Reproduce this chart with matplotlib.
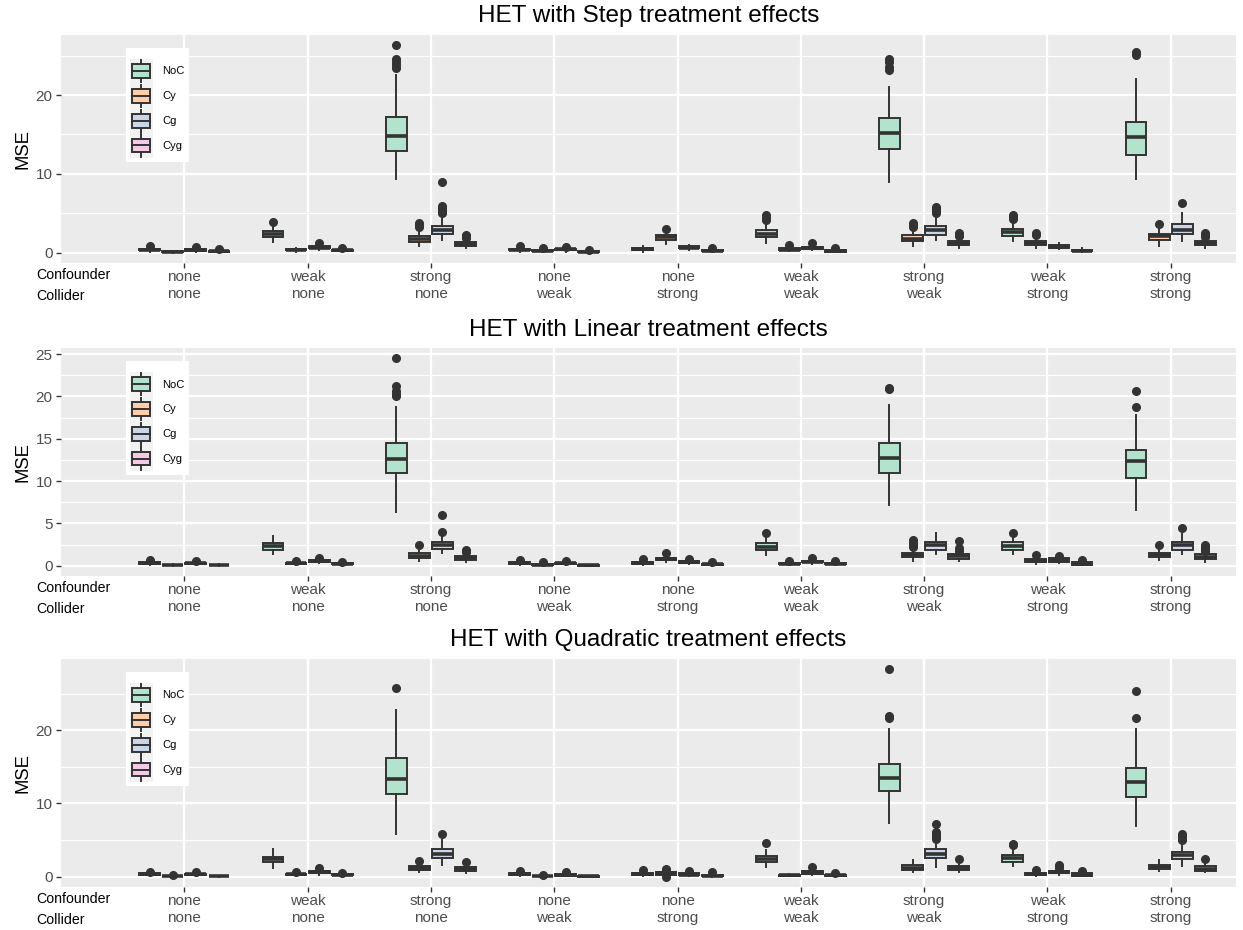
import matplotlib
matplotlib.use("Agg")
import matplotlib.pyplot as plt
from matplotlib.legend_handler import HandlerBase
from matplotlib.patches import Patch, Rectangle
from matplotlib.lines import Line2D
import numpy as np

plt.rcParams["font.family"] = ["Liberation Sans", "DejaVu Sans"]

# categories (x axis, two rows)
CONFOUNDER = ["none", "weak", "strong", "none", "none", "weak", "strong", "weak", "strong"]
COLLIDER = ["none", "none", "none", "weak", "strong", "weak", "weak", "strong", "strong"]
GROUPS = ["NoC", "Cy", "Cg", "Cyg"]
COLORS = ["#B3E2CD", "#FDCDAC", "#CBD5E8", "#F4CAE4"]
TITLES = ["HET with Step treatment effects",
          "HET with Linear treatment effects",
          "HET with Quadratic treatment effects"]

# box stats per category: (whisker low, q1, median, q3, whisker high)
STEP_NOC = [(0.12, 0.3, 0.4, 0.5, 0.75), (1.4, 1.95, 2.35, 2.75, 3.5), (9.3, 12.9, 14.8, 17.2, 22.6),
            (0.15, 0.3, 0.4, 0.5, 0.65), (0.15, 0.3, 0.45, 0.6, 0.85), (1.3, 2.0, 2.4, 2.85, 3.6),
            (9.0, 13.1, 15.2, 17.1, 21.0), (1.45, 2.1, 2.6, 3.0, 3.7), (9.3, 12.4, 14.7, 16.6, 22.0)]
STEP_NOC_OUT = [[0.88], [3.85], [23.4, 23.8, 24.2, 24.6, 26.3], [0.8], [], [4.1, 4.45, 4.8],
                [23.2, 23.6, 24.2, 24.6], [4.25, 4.55, 4.85], [25.1, 25.5]]
STEP_CY = [(0.03, 0.08, 0.12, 0.17, 0.28), (0.15, 0.3, 0.37, 0.45, 0.6), (0.9, 1.35, 1.75, 2.15, 3.0),
           (0.05, 0.18, 0.24, 0.3, 0.45), (1.1, 1.65, 1.95, 2.3, 2.65), (0.2, 0.3, 0.4, 0.55, 0.85),
           (0.8, 1.45, 1.8, 2.2, 2.95), (0.6, 0.95, 1.2, 1.5, 2.0), (0.9, 1.6, 2.1, 2.4, 3.1)]
STEP_CY_OUT = [[], [], [3.3, 3.55, 3.8], [0.55], [3.05], [1.0], [3.3, 3.55, 3.8], [2.25, 2.45], [3.65]]
STEP_CG = [(0.1, 0.27, 0.35, 0.45, 0.6), (0.3, 0.55, 0.65, 0.8, 1.05), (1.6, 2.35, 2.9, 3.4, 4.7),
           (0.15, 0.35, 0.42, 0.5, 0.65), (0.35, 0.55, 0.65, 0.8, 1.0), (0.3, 0.5, 0.6, 0.75, 1.0),
           (1.6, 2.3, 2.95, 3.45, 4.85), (0.45, 0.6, 0.75, 0.95, 1.3), (1.55, 2.4, 2.95, 3.6, 5.0)]
STEP_CG_OUT = [[0.72], [1.25], [5.0, 5.2, 5.45, 5.65, 5.9, 9.0], [0.78], [], [1.2],
               [5.05, 5.25, 5.45, 5.65, 5.85], [], [6.3]]
STEP_CYG = [(0.05, 0.12, 0.17, 0.23, 0.35), (0.1, 0.23, 0.3, 0.38, 0.5), (0.6, 0.9, 1.1, 1.35, 1.7),
            (0.02, 0.08, 0.12, 0.18, 0.28), (0.05, 0.2, 0.28, 0.38, 0.55), (0.05, 0.15, 0.22, 0.3, 0.45),
            (0.55, 0.95, 1.2, 1.5, 1.95), (0.08, 0.2, 0.28, 0.38, 0.55), (0.55, 0.95, 1.2, 1.5, 1.85)]
STEP_CYG_OUT = [[0.42], [0.58], [1.85, 2.05, 2.25], [0.35], [0.65], [0.6], [2.1, 2.3, 2.5], [],
                [2.0, 2.2, 2.45]]

LIN_NOC = [(0.1, 0.25, 0.33, 0.43, 0.55), (1.38, 1.9, 2.3, 2.7, 3.55), (6.3, 10.9, 12.6, 14.5, 18.8),
           (0.1, 0.25, 0.33, 0.42, 0.55), (0.1, 0.22, 0.3, 0.4, 0.6), (1.25, 1.85, 2.25, 2.7, 3.35),
           (7.2, 11.0, 12.7, 14.5, 19.0), (1.4, 1.9, 2.35, 2.75, 3.3), (6.6, 10.4, 12.4, 13.65, 17.8)]
LIN_NOC_OUT = [[0.65], [], [20.0, 20.3, 20.6, 21.2, 24.5], [0.65], [0.75], [3.92], [20.9, 21.05],
               [3.88], [18.7, 20.7]]
LIN_CY = [(0.02, 0.05, 0.08, 0.12, 0.2), (0.1, 0.2, 0.28, 0.36, 0.48), (0.6, 0.95, 1.2, 1.45, 2.0),
          (0.02, 0.07, 0.12, 0.18, 0.3), (0.45, 0.65, 0.8, 0.95, 1.25), (0.05, 0.15, 0.22, 0.32, 0.45),
          (0.6, 1.0, 1.25, 1.5, 2.05), (0.25, 0.4, 0.55, 0.75, 1.05), (0.63, 1.0, 1.3, 1.55, 2.2)]
LIN_CY_OUT = [[], [0.6], [2.5], [0.4], [1.5], [0.55], [2.2, 2.45, 2.7, 3.0], [1.3], [2.45]]
LIN_CG = [(0.1, 0.22, 0.3, 0.38, 0.5), (0.3, 0.45, 0.55, 0.65, 0.8), (1.45, 1.95, 2.4, 2.85, 3.45),
          (0.1, 0.22, 0.3, 0.38, 0.5), (0.2, 0.35, 0.45, 0.55, 0.7), (0.25, 0.4, 0.5, 0.62, 0.8),
          (1.38, 1.9, 2.4, 2.85, 3.85), (0.35, 0.48, 0.68, 0.9, 1.0), (1.38, 1.85, 2.45, 2.85, 3.8)]
LIN_CG_OUT = [[0.6], [0.9], [4.0, 6.0], [0.6], [0.78], [0.95], [], [1.15], [4.43]]
LIN_CYG = [(0.01, 0.04, 0.07, 0.1, 0.16), (0.08, 0.16, 0.24, 0.32, 0.42), (0.5, 0.65, 0.92, 1.12, 1.5),
           (0.01, 0.03, 0.05, 0.08, 0.12), (0.03, 0.08, 0.15, 0.24, 0.38), (0.05, 0.15, 0.23, 0.33, 0.45),
           (0.55, 0.83, 1.1, 1.35, 1.7), (0.05, 0.12, 0.25, 0.43, 0.55), (0.5, 0.8, 1.05, 1.35, 1.65)]
LIN_CYG_OUT = [[], [0.5], [1.62, 1.75, 1.9], [], [0.5], [0.55], [1.8, 2.1, 2.9], [0.67],
               [1.8, 2.0, 2.25, 2.5]]

QUAD_NOC = [(0.12, 0.3, 0.38, 0.48, 0.6), (1.15, 2.0, 2.37, 2.75, 3.75), (5.85, 11.35, 13.35, 16.2, 22.7),
            (0.08, 0.22, 0.32, 0.45, 0.65), (0.08, 0.2, 0.32, 0.45, 0.7), (1.28, 1.95, 2.4, 2.8, 3.67),
            (7.4, 11.65, 13.45, 15.45, 20.2), (1.46, 2.05, 2.5, 2.97, 3.65), (6.95, 10.9, 12.9, 14.85, 20.2)]
QUAD_NOC_OUT = [[0.7], [], [25.7], [0.82], [0.92], [4.6], [21.6, 22.0, 28.3], [4.3, 4.45], [21.7, 25.4]]
QUAD_CY = [(0.02, 0.06, 0.1, 0.15, 0.22), (0.1, 0.25, 0.33, 0.42, 0.5), (0.6, 0.92, 1.2, 1.47, 1.95),
           (0.02, 0.05, 0.09, 0.14, 0.22), (0.2, 0.3, 0.5, 0.68, 0.85), (0.05, 0.12, 0.18, 0.25, 0.32),
           (0.6, 0.92, 1.24, 1.55, 2.3), (0.12, 0.23, 0.38, 0.55, 0.75), (0.73, 1.0, 1.3, 1.6, 2.3)]
QUAD_CY_OUT = [[0.3], [0.58], [2.2], [0.3], [0.02, 0.95, 1.05], [], [], [0.92], []]
QUAD_CG = [(0.1, 0.25, 0.33, 0.43, 0.52), (0.3, 0.55, 0.65, 0.8, 1.0), (1.65, 2.52, 3.12, 3.8, 4.95),
           (0.08, 0.15, 0.28, 0.42, 0.5), (0.1, 0.2, 0.3, 0.45, 0.65), (0.2, 0.37, 0.6, 0.83, 1.05),
           (1.29, 2.52, 3.1, 3.75, 4.9), (0.3, 0.46, 0.65, 0.83, 1.05), (1.46, 2.38, 3.0, 3.42, 4.7)]
QUAD_CG_OUT = [[0.6], [1.15], [5.8], [0.6], [0.85], [1.28], [5.2, 5.5, 5.8, 6.1, 7.2],
               [1.2, 1.45, 1.65], [4.95, 5.2, 5.5, 5.8]]
QUAD_CYG = [(0.01, 0.04, 0.07, 0.1, 0.15), (0.08, 0.18, 0.27, 0.36, 0.45), (0.45, 0.73, 1.0, 1.28, 1.7),
            (0.01, 0.03, 0.05, 0.08, 0.12), (0.03, 0.07, 0.12, 0.22, 0.4), (0.05, 0.12, 0.2, 0.3, 0.42),
            (0.6, 0.87, 1.15, 1.46, 2.0), (0.05, 0.1, 0.25, 0.46, 0.6), (0.6, 0.82, 1.1, 1.46, 2.0)]
QUAD_CYG_OUT = [[], [0.5], [1.97], [], [0.6], [0.55], [2.42], [0.75], [2.38]]

PANELS = [
    ([STEP_NOC, STEP_CY, STEP_CG, STEP_CYG],
     [STEP_NOC_OUT, STEP_CY_OUT, STEP_CG_OUT, STEP_CYG_OUT], [0, 10, 20], [5, 15, 25]),
    ([LIN_NOC, LIN_CY, LIN_CG, LIN_CYG],
     [LIN_NOC_OUT, LIN_CY_OUT, LIN_CG_OUT, LIN_CYG_OUT], [0, 5, 10, 15, 20, 25],
     [2.5, 7.5, 12.5, 17.5, 22.5]),
    ([QUAD_NOC, QUAD_CY, QUAD_CG, QUAD_CYG],
     [QUAD_NOC_OUT, QUAD_CY_OUT, QUAD_CG_OUT, QUAD_CYG_OUT], [0, 10, 20], [5, 15, 25]),
]

EDGE = "#333333"
BOX_LW = 1.4


class BoxKey(HandlerBase):
    """ggplot-like boxplot legend key"""

    def create_artists(self, legend, orig_handle, xdescent, ydescent,
                       width, height, fontsize, trans):
        x0, y0 = -xdescent, -ydescent
        bg = Rectangle((x0, y0), width, height, facecolor="#F2F2F2",
                       edgecolor="none", transform=trans)
        box = Rectangle((x0 + 0.1 * width, y0 + 0.22 * height), 0.8 * width, 0.56 * height,
                        facecolor=orig_handle.get_facecolor(), edgecolor=EDGE,
                        linewidth=BOX_LW, transform=trans)
        med = Line2D([x0 + 0.1 * width, x0 + 0.9 * width], [y0 + 0.5 * height] * 2,
                     color=EDGE, lw=BOX_LW, transform=trans)
        wlo = Line2D([x0 + 0.5 * width] * 2, [y0 + 0.05 * height, y0 + 0.22 * height],
                     color=EDGE, lw=BOX_LW, transform=trans)
        whi = Line2D([x0 + 0.5 * width] * 2, [y0 + 0.78 * height, y0 + 0.95 * height],
                     color=EDGE, lw=BOX_LW, transform=trans)
        return [bg, box, med, wlo, whi]


fig = plt.figure(figsize=(12.43, 9.30), dpi=100)
bottoms = [0.7172, 0.3806, 0.0462]

pos = np.arange(1, len(CONFOUNDER) + 1)
offsets = (np.arange(4) - 1.5) * 0.1875

for title, bottom, (series, outs, major, minor) in zip(TITLES, bottoms, PANELS):
    ax = fig.add_axes([0.0491, bottom, 0.9453, 0.2452])
    ax.set_facecolor("#EBEBEB")
    for sp in ax.spines.values():
        sp.set_visible(False)

    allvals = []
    for gi, (stats, fl) in enumerate(zip(series, outs)):
        bx = [dict(whislo=s[0], q1=s[1], med=s[2], q3=s[3], whishi=s[4], fliers=f)
              for s, f in zip(stats, fl)]
        for s, f in zip(stats, fl):
            allvals.extend(list(s) + list(f))
        ax.bxp(bx, positions=pos + offsets[gi], widths=0.169, patch_artist=True,
               showcaps=False, manage_ticks=False,
               boxprops=dict(facecolor=COLORS[gi], edgecolor=EDGE, linewidth=BOX_LW),
               medianprops=dict(color=EDGE, linewidth=2.6, solid_capstyle="butt"),
               whiskerprops=dict(color=EDGE, linewidth=BOX_LW),
               flierprops=dict(marker="o", markerfacecolor=EDGE, markeredgecolor=EDGE,
                               markersize=5.5, linestyle="none"))

    lo, hi = min(allvals), max(allvals)
    pad = 0.05 * (hi - lo)
    ax.set_ylim(lo - pad, hi + pad)
    ax.set_xlim(0.0, 9.53)

    ax.set_yticks(major)
    ax.set_yticks(minor, minor=True)
    ax.set_xticks(pos)
    ax.set_xticklabels([f"{a}\n{b}" for a, b in zip(CONFOUNDER, COLLIDER)], linespacing=1.3)
    ax.set_axisbelow(True)
    ax.grid(which="major", color="white", linewidth=1.6)
    ax.grid(which="minor", axis="y", color="white", linewidth=0.8)
    ax.tick_params(which="major", length=3.6, width=1.0, color=EDGE,
                   labelsize=11, labelcolor="#4D4D4D")
    ax.tick_params(axis="y", which="major", pad=2.4)
    ax.tick_params(axis="x", which="major", pad=1.5)
    ax.tick_params(which="minor", length=0)

    ax.set_title(title, fontsize=17.5, pad=9, color="black")
    ax.set_ylabel("MSE", fontsize=13.3, color="black")
    ax.yaxis.set_label_coords(-0.025, 0.5)

    ax.annotate("Confounder", xy=(-0.0213, 0), xycoords="axes fraction",
                xytext=(0, -11.7), textcoords="offset points", ha="left", va="baseline",
                fontsize=10.2, color="black", annotation_clip=False)
    ax.annotate("Collider", xy=(-0.0213, 0), xycoords="axes fraction",
                xytext=(0, -26.6), textcoords="offset points", ha="left", va="baseline",
                fontsize=10.2, color="black", annotation_clip=False)

    handles = [Patch(facecolor=c) for c in COLORS]
    leg = ax.legend(handles, GROUPS, handler_map={Patch: BoxKey()},
                    loc="upper left", bbox_to_anchor=(0.055, 0.943), borderaxespad=0,
                    fontsize=8, title=" ", title_fontsize=6,
                    handlelength=2.07, handleheight=3.05, labelspacing=0,
                    handletextpad=0.9, borderpad=0.35, frameon=True, fancybox=False)
    leg.get_frame().set_facecolor("white")
    leg.get_frame().set_edgecolor("none")
    leg.get_frame().set_alpha(1)

fig.savefig("out.png", dpi=100)
